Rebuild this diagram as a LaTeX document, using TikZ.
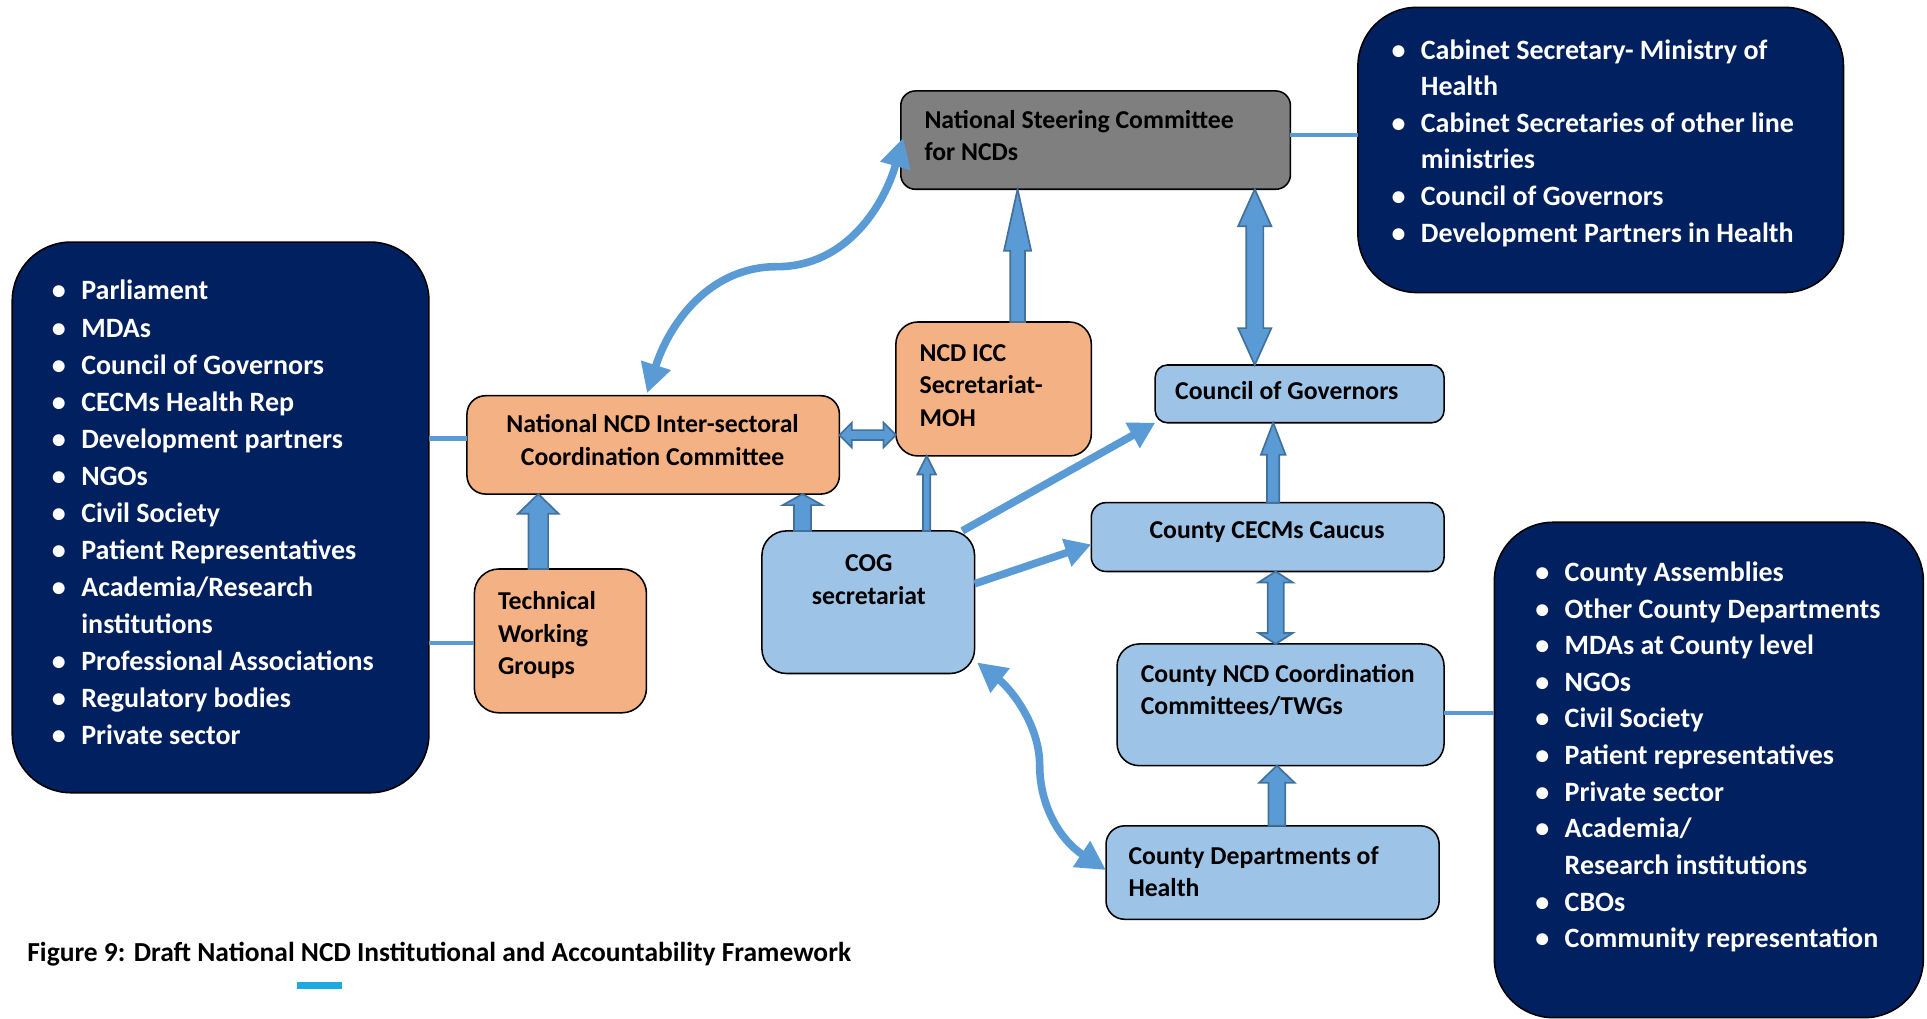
\documentclass[tikz,border=0pt]{standalone}
\usepackage{fontspec}
\setmainfont{Carlito}
\usetikzlibrary{arrows.meta,calc}
\definecolor{navy}{HTML}{002060}
\definecolor{lblue}{HTML}{9DC3E6}
\definecolor{orng}{HTML}{F4B183}
\definecolor{grayb}{HTML}{7F7F7F}
\definecolor{abl}{HTML}{5B9BD5}
\definecolor{abd}{HTML}{41719C}
\definecolor{cyanbar}{HTML}{1FA9E1}
\newcommand\upx{0.7113pt}
\newcommand\topstrut{\rule{0pt}{12pt}}
\newcommand\liststrut{\rule{0pt}{13pt}}
\newcommand\bul{\makebox[17pt][l]{\textbullet}}
\newcommand\ind{\hspace*{17pt}}
% up block arrow: #1 base, #2 tip, #3 shaft w, #4 head w, #5 head length (px)
\newcommand\bup[5]{%
 \filldraw[barr] ([xshift=-#3/2*\upx]#1) -- ([xshift=-#3/2*\upx,yshift=-#5*\upx]#2) -- ([xshift=-#4/2*\upx,yshift=-#5*\upx]#2) -- (#2) -- ([xshift=#4/2*\upx,yshift=-#5*\upx]#2) -- ([xshift=#3/2*\upx,yshift=-#5*\upx]#2) -- ([xshift=#3/2*\upx]#1) -- cycle;}
% up-down block arrow: #1 bottom tip, #2 top tip
\newcommand\bud[5]{%
 \filldraw[barr] (#2) -- ([xshift=#4/2*\upx,yshift=-#5*\upx]#2) -- ([xshift=#3/2*\upx,yshift=-#5*\upx]#2) -- ([xshift=#3/2*\upx,yshift=#5*\upx]#1) -- ([xshift=#4/2*\upx,yshift=#5*\upx]#1) -- (#1) -- ([xshift=-#4/2*\upx,yshift=#5*\upx]#1) -- ([xshift=-#3/2*\upx,yshift=#5*\upx]#1) -- ([xshift=-#3/2*\upx,yshift=-#5*\upx]#2) -- ([xshift=-#4/2*\upx,yshift=-#5*\upx]#2) -- cycle;}
% left-right block arrow: #1 left tip, #2 right tip
\newcommand\blr[5]{%
 \filldraw[barr] (#1) -- ([xshift=#5*\upx,yshift=#4/2*\upx]#1) -- ([xshift=#5*\upx,yshift=#3/2*\upx]#1) -- ([xshift=-#5*\upx,yshift=#3/2*\upx]#2) -- ([xshift=-#5*\upx,yshift=#4/2*\upx]#2) -- (#2) -- ([xshift=-#5*\upx,yshift=-#4/2*\upx]#2) -- ([xshift=-#5*\upx,yshift=-#3/2*\upx]#2) -- ([xshift=#5*\upx,yshift=-#3/2*\upx]#1) -- ([xshift=#5*\upx,yshift=-#4/2*\upx]#1) -- cycle;}
\begin{document}
\begin{tikzpicture}[x=0.025cm,y=-0.025cm,
  bx/.style={draw=black, line width=0.9pt, inner sep=0pt, outer sep=0pt},
  navybox/.style={bx, fill=navy, rounded corners=34pt},
  conn/.style={draw=abl, line width=2.6pt},
  larr/.style={draw=abl, line width=4.4pt},
  barr/.style={fill=abl, draw=abd, line width=1pt},
  lbl/.style={inner sep=0pt, align=left, anchor=north west, font=\fontsize{14.9}{18.7}\selectfont\bfseries},
  clbl/.style={lbl, align=center, anchor=north},
  lst/.style={inner sep=0pt, align=left, anchor=north west, text=white, font=\fontsize{16.2}{21.2}\selectfont\bfseries},
  lstwide/.style={lst, font=\fontsize{16.2}{21.45}\selectfont\bfseries},
  tipa/.tip={Triangle[length=17pt,width=17pt]},
  tipb/.tip={Triangle[length=15pt,width=16pt]}
]
\useasboundingbox (0,0) rectangle (1568,829);

% navy boxes
\node[navybox, minimum width=395*\upx, minimum height=232*\upx] (ntop) at (1302.5,122) {};
\node[navybox, minimum width=339*\upx, minimum height=448*\upx] (nleft) at (179.5,421) {};
\node[navybox, minimum width=349*\upx, minimum height=403*\upx] (nbr) at (1390.5,626.5) {};

% coloured boxes
\node[bx, fill=grayb, rounded corners=8.5pt, minimum width=317*\upx, minimum height=80*\upx] (nsc) at (891.5,114) {};
\node[bx, fill=orng, rounded corners=12.8pt, minimum width=159*\upx, minimum height=109*\upx] (icc) at (808.5,316.5) {};
\node[bx, fill=orng, rounded corners=10.7pt, minimum width=303*\upx, minimum height=80*\upx] (nicc) at (531.5,362) {};
\node[bx, fill=orng, rounded corners=14.2pt, minimum width=140*\upx, minimum height=117*\upx] (twg) at (456,521.5) {};
\node[bx, fill=lblue, rounded corners=14.2pt, minimum width=173*\upx, minimum height=116*\upx] (cogs) at (706.5,490) {};
\node[bx, fill=lblue, rounded corners=7.1pt, minimum width=235*\upx, minimum height=47*\upx] (cog) at (1057.5,320.5) {};
\node[bx, fill=lblue, rounded corners=8.5pt, minimum width=287*\upx, minimum height=56*\upx] (cecm) at (1031.5,437) {};
\node[bx, fill=lblue, rounded corners=12.8pt, minimum width=266*\upx, minimum height=99*\upx] (cncd) at (1042,573.5) {};
\node[bx, fill=lblue, rounded corners=10.7pt, minimum width=271*\upx, minimum height=76*\upx] (cdep) at (1035.5,710) {};

% box labels
\node[lbl] (tnsc) at (752,87.1) {\topstrut National Steering Committee\\for NCDs};
\node[lbl] (ticc) at (748,277.1) {\topstrut NCD ICC\\Secretariat-\\MOH};
\node[clbl] (tnicc) at (531,335.1) {\topstrut National NCD Inter-sectoral\\Coordination Committee};
\node[lbl] (ttwg) at (405,479.1) {\topstrut Technical\\Working\\Groups};
\node[clbl] (tcogs) at (707,448.1) {\topstrut COG\\secretariat};
\node[lbl] (tcog) at (956,308.1) {\topstrut Council of Governors};
\node[clbl] (tcecm) at (1031,421.1) {\topstrut County CECMs Caucus};
\node[lbl] (tcncd) at (928,538.1) {\topstrut County NCD Coordination\\Committees/TWGs};
\node[lbl] (tcdep) at (918,686.1) {\topstrut County Departments of\\Health};

% lists
\node[lst] (ltop) at (1132,29.5) {\liststrut\bul Cabinet Secretary- Ministry of\\ \ind Health\\ \bul Cabinet Secretaries of other line\\ \ind ministries\\ \bul Council of Governors\\ \bul Development Partners in Health};
\node[lstwide] (lleft) at (42,225.5) {\liststrut\bul Parliament\\ \bul MDAs\\ \bul Council of Governors\\ \bul CECMs Health Rep\\ \bul Development partners\\ \bul NGOs\\ \bul Civil Society\\ \bul Patient Representatives\\ \bul Academia/Research\\ \ind institutions\\ \bul Professional Associations\\ \bul Regulatory bodies\\ \bul Private sector};
\node[lst] (lbr) at (1249,454.5) {\liststrut\bul County Assemblies\\ \bul Other County Departments\\ \bul MDAs at County level\\ \bul NGOs\\ \bul Civil Society\\ \bul Patient representatives\\ \bul Private sector\\ \bul Academia/\\ \ind Research institutions\\ \bul CBOs\\ \bul Community representation};

% caption
\node[inner sep=0pt, anchor=base west, font=\fontsize{15.9}{19}\selectfont\bfseries] (cap) at (22,782) {Figure 9: Draft National NCD Institutional and Accountability Framework};
\fill[cyanbar] (242,799) rectangle (278,805);

% plain connectors
\draw[conn] ([yshift=4*\upx]nsc.east) coordinate (k1) -- (k1 -| ntop.west);
\draw[conn] ([yshift=5*\upx]nicc.west) coordinate (k2) -- (k2 -| nleft.east);
\draw[conn] ([yshift=-1.5*\upx]twg.west) coordinate (k3) -- (k3 -| nleft.east);
\draw[conn] ([yshift=-6.5*\upx]cncd.east) coordinate (k4) -- (k4 -| nbr.west);

% curved arrows
\coordinate (c1a) at ([xshift=-5*\upx,yshift=2*\upx]nicc.north);
\coordinate (c1b) at ([xshift=2*\upx,yshift=2*\upx]nsc.west);
\draw[larr, tipa-tipa] (c1a) .. controls (545,262) and (578,217) .. (632,217) .. controls (690,217) and (720,165) .. (c1b);
\coordinate (c2a) at ([xshift=2*\upx,yshift=9*\upx]cogs.south east);
\coordinate (c2b) at ([yshift=2*\upx]cdep.west);
\draw[larr, tipa-tipa] (c2a) .. controls (823,561) and (846,590) .. (846,623) .. controls (846,655) and (862,683) .. (c2b);

% straight arrows
\draw[larr, -tipb] ([xshift=-10*\upx]cogs.north east) -- (cog.south west);
\draw[larr, -tipb] ([yshift=15*\upx]cogs.east) -- ([yshift=-6*\upx]cecm.west);

% block arrows
\coordinate (b1) at ([xshift=19.5*\upx]icc.north);
\coordinate (b1t) at (b1 |- nsc.south);
\bup{b1}{b1t}{12}{22}{50}
\coordinate (b2) at ([xshift=-36.5*\upx]cog.north);
\coordinate (b2t) at (b2 |- nsc.south);
\bud{b2}{b2t}{14}{27}{30}
\coordinate (b3) at ([yshift=8*\upx]nicc.east);
\coordinate (b3t) at (b3 -| icc.west);
\blr{b3}{b3t}{8}{20}{10}
\coordinate (b4) at ([xshift=-18*\upx]twg.north);
\coordinate (b4t) at (b4 |- nicc.south);
\bup{b4}{b4t}{16}{33}{16}
\coordinate (b5) at ([xshift=-53.5*\upx]cogs.north);
\coordinate (b5t) at (b5 |- nicc.south);
\bup{b5}{b5t}{14}{32}{9}
\coordinate (b6) at ([xshift=47.5*\upx]cogs.north);
\coordinate (b6t) at (b6 |- icc.south);
\bup{b6}{b6t}{6}{15}{15}
\coordinate (b7) at ([xshift=4.5*\upx]cecm.north);
\coordinate (b7t) at (b7 |- cog.south);
\bup{b7}{b7t}{10}{20}{26}
\coordinate (b8) at ([xshift=-4*\upx]cncd.north);
\coordinate (b8t) at (b8 |- cecm.south);
\bud{b8}{b8t}{13}{28}{9}
\coordinate (b9) at ([xshift=3.5*\upx]cdep.north);
\coordinate (b9t) at (b9 |- cncd.south);
\bup{b9}{b9t}{13.5}{29}{14}
\end{tikzpicture}
\end{document}
